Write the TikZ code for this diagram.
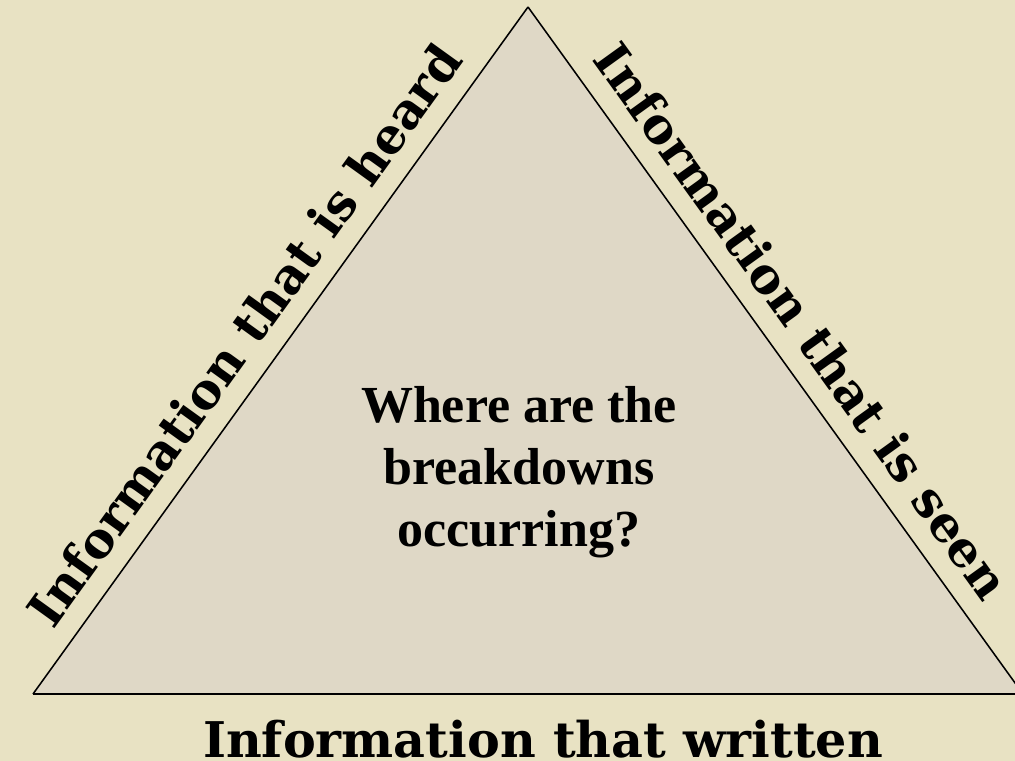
\documentclass[tikz,border=0pt]{standalone}
\usepackage{fontspec}
\setmainfont{Liberation Serif}
\newfontfamily\slabfont{DejaVu Serif}
\usetikzlibrary{calc}

\definecolor{parchment}{HTML}{E8E2C3}
\definecolor{stone}{HTML}{DFD8C6}

\begin{document}
\begin{tikzpicture}[
		x=0.025cm, y=-0.025cm,
		% Stile per i lati del triangolo
		edge style/.style={line width=1.1pt, color=black, line join=miter},
		% Stile per le scritte lungo i lati
		side style/.style={inner sep=0pt, font=\slabfont\bfseries\fontsize{35pt}{40pt}\selectfont},
		% Stile per la domanda centrale
		question style/.style={inner sep=0pt, align=center, font=\bfseries\fontsize{37pt}{44pt}\selectfont}
	]

	% =================================
	% SFONDO
	% =================================
	\useasboundingbox (0,0) rectangle (1015,761);
	\clip (0,0) rectangle (1015,761);
	\fill[parchment] (0,0) rectangle (1015,761);

	% =================================
	% VERTICI
	% =================================
	\coordinate (apex) at (528, 7);
	\coordinate (bl) at (33, 694);
	\coordinate (br) at (1023, 694);

	% =================================
	% TRIANGOLO
	% =================================
	\fill[stone] (apex) -- (bl) -- (br) -- cycle;
	\draw[edge style] (apex) -- (bl);
	\draw[edge style] (apex) -- (br);
	\draw[edge style, line width=1.6pt] (bl) -- (br);

	% =================================
	% SCRITTE
	% =================================
	\path (bl) -- node[side style, sloped, pos=0.49, above=14pt] (heard) {Information that is heard} (apex);
	\path (apex) -- node[side style, sloped, pos=0.49, above=14pt] (seen) {Information that is seen} (br);
	\node[side style, anchor=base] (written) at (543, 757) {Information that written};

	\node[question style] (question) at (519, 472) {Where are the\\breakdowns\\occurring?};

\end{tikzpicture}
\end{document}
